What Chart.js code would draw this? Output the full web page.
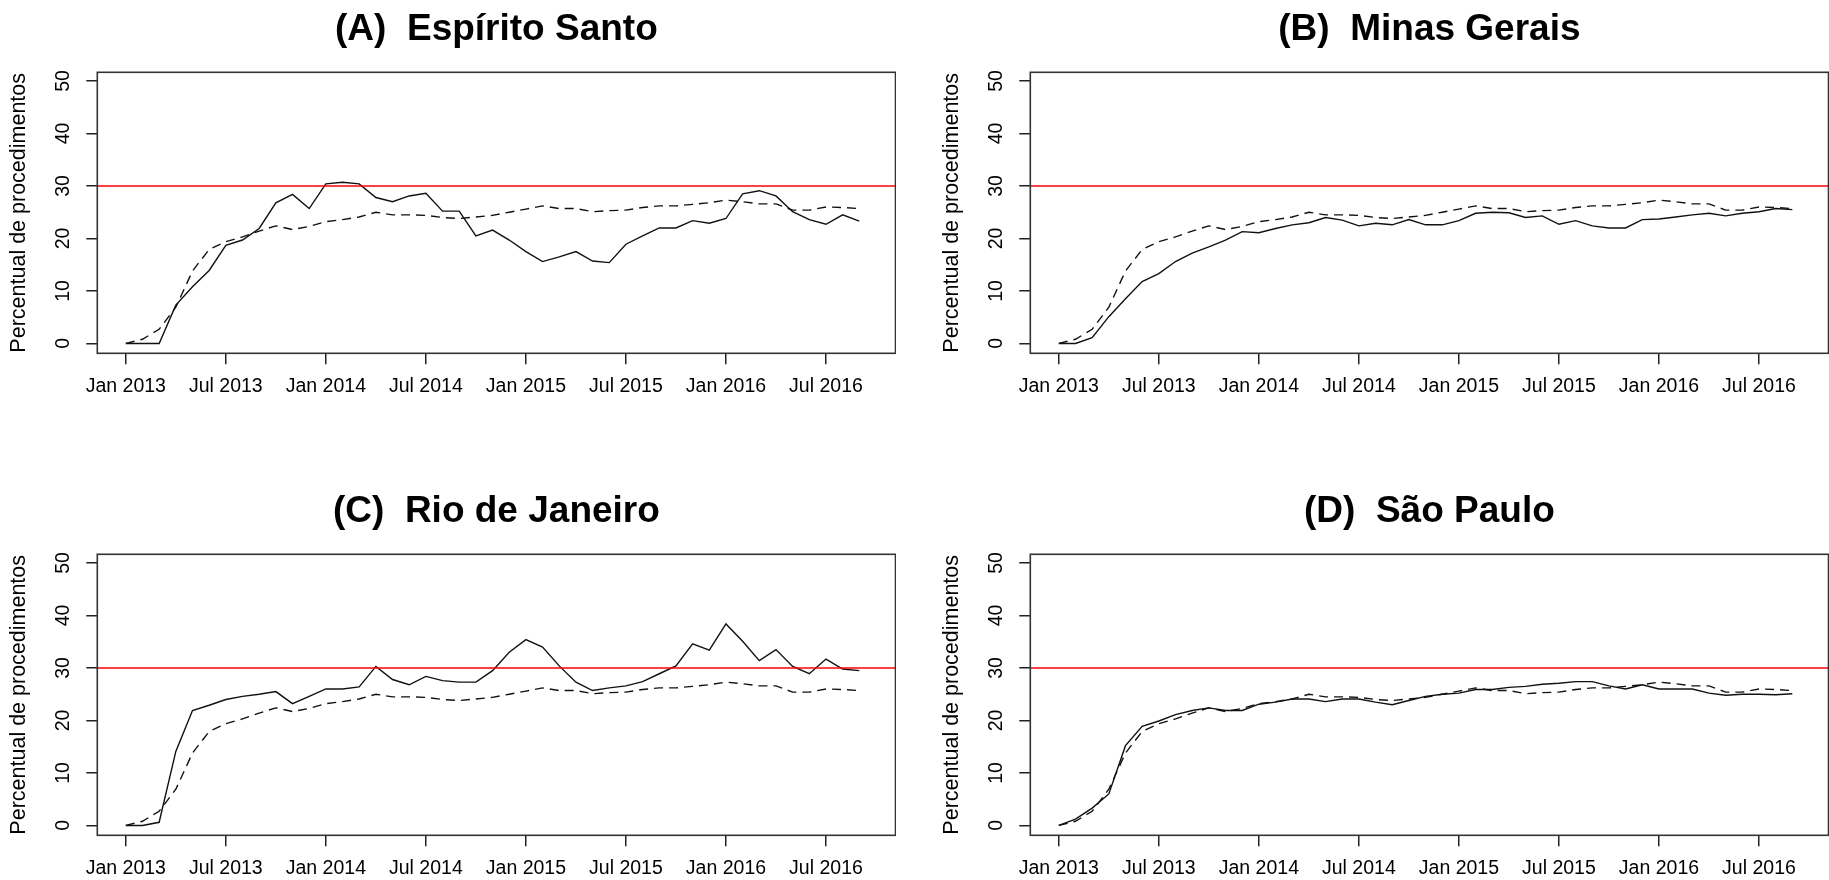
<!DOCTYPE html>
<html lang="pt-BR">
<head>
<meta charset="utf-8">
<title>Percentual de procedimentos por estado – Sudeste</title>
<script src="https://cdn.jsdelivr.net/npm/chart.js@4.4.1/dist/chart.umd.min.js"></script>
<style>
  html, body { margin: 0; padding: 0; background: #fff; }
  body { width: 1829px; height: 880px; position: relative; overflow: hidden; }
  .painel { position: absolute; width: 896px; height: 398px; }
  #pA { left: 0;     top: 0; }
  #pB { left: 933px; top: 0; }
  #pC { left: 0;     top: 482px; }
  #pD { left: 933px; top: 482px; }
</style>
</head>
<body>
<div class="painel" id="pA"><canvas id="cA" width="896" height="398"></canvas></div>
<div class="painel" id="pB"><canvas id="cB" width="896" height="398"></canvas></div>
<div class="painel" id="pC"><canvas id="cC" width="896" height="398"></canvas></div>
<div class="painel" id="pD"><canvas id="cD" width="896" height="398"></canvas></div>
<script>
// Meses de jan/2013 (0) a set/2016 (44); marcas do eixo a cada seis meses
const posicoesX = [0, 6, 12, 18, 24, 30, 36, 42];
const rotulosX  = ['Jan 2013', 'Jul 2013', 'Jan 2014', 'Jul 2014',
                   'Jan 2015', 'Jul 2015', 'Jan 2016', 'Jul 2016'];
const ticksY    = [0, 10, 20, 30, 40, 50];
const meta      = 30;

// Percentual mensal de procedimentos por estado (linha contínua)
const espiritoSanto = [0, 0, 0, 7.3, 10.8, 13.9, 18.7, 19.7, 21.9, 26.8,
  28.4, 25.7, 30.4, 30.7, 30.4, 27.8, 27.0, 28.1, 28.6, 25.2,
  25.2, 20.5, 21.6, 19.7, 17.5, 15.6, 16.5, 17.5, 15.7, 15.4,
  18.9, 20.5, 22.0, 22.0, 23.4, 22.9, 23.8, 28.5, 29.1, 28.1,
  25.1, 23.6, 22.7, 24.5, 23.3];
const minasGerais = [0, 0, 1.1, 5.1, 8.5, 11.8, 13.3, 15.6, 17.2, 18.4,
  19.7, 21.3, 21.1, 21.9, 22.6, 23.0, 24.0, 23.5, 22.4, 22.9,
  22.6, 23.6, 22.6, 22.6, 23.4, 24.8, 25.0, 24.9, 24.0, 24.3,
  22.7, 23.4, 22.4, 22.0, 22.0, 23.6, 23.7, 24.1, 24.5, 24.8,
  24.3, 24.8, 25.1, 25.7, 25.5];
const rioDeJaneiro = [0, 0, 0.6, 14.1, 21.9, 22.9, 24.0, 24.6, 25.0, 25.5,
  23.2, 24.6, 26.0, 26.0, 26.4, 30.3, 27.8, 26.8, 28.4, 27.6,
  27.3, 27.3, 29.5, 33.0, 35.4, 34.0, 30.4, 27.3, 25.7, 26.2,
  26.6, 27.4, 28.9, 30.4, 34.6, 33.4, 38.4, 35.1, 31.4, 33.5,
  30.3, 28.9, 31.7, 29.8, 29.5];
const saoPaulo = [0, 1.2, 3.3, 6.0, 15.2, 18.9, 19.9, 21.1, 21.9, 22.4,
  21.9, 21.9, 23.1, 23.5, 24.1, 24.1, 23.6, 24.1, 24.1, 23.5,
  23.0, 23.8, 24.6, 25.0, 25.2, 25.9, 25.9, 26.3, 26.5, 26.9,
  27.1, 27.4, 27.4, 26.6, 26.0, 26.8, 26.0, 26.0, 26.0, 25.2,
  24.8, 25.0, 25.0, 24.9, 25.1];
// Série de comparação (linha tracejada), a mesma em todos os painéis
const referencia = [0, 0.8, 2.7, 6.9, 13.8, 17.9, 19.4, 20.3, 21.4, 22.4,
  21.7, 22.3, 23.2, 23.6, 24.1, 25.0, 24.5, 24.5, 24.4, 24.0,
  23.8, 24.1, 24.4, 25.0, 25.6, 26.2, 25.7, 25.7, 25.1, 25.3,
  25.4, 25.9, 26.2, 26.2, 26.5, 26.8, 27.3, 27.0, 26.6, 26.6,
  25.4, 25.4, 26.0, 25.9, 25.7];

// Limites dos eixos (faixa dos dados com a margem usual de 4%)
const X_MIN = -1.71, X_MAX = 46.17;
const Y_MIN = -1.88, Y_MAX = 51.66;

const FONTE = '"Liberation Sans", Arial, Helvetica, sans-serif';
Chart.defaults.font.family = FONTE;
Chart.defaults.color = '#000';

// Moldura em volta da área de plotagem
const moldura = {
  id: 'moldura',
  afterDatasetsDraw(chart) {
    const { ctx, chartArea: a } = chart;
    ctx.save();
    ctx.strokeStyle = '#333';
    ctx.lineWidth = 1.6;
    ctx.strokeRect(a.left, a.top, a.right - a.left, a.bottom - a.top);
    ctx.restore();
  }
};

const pontos = serie => serie.map((v, i) => ({ x: i, y: v }));

const marcas = { drawOnChartArea: false, drawTicks: true, tickLength: 11, color: '#222', lineWidth: 1.5 };

function painel(id, titulo, serie) {
  return new Chart(document.getElementById(id), {
    type: 'line',
    data: {
      datasets: [
        { label: 'Meta', data: [{ x: X_MIN, y: meta }, { x: X_MAX, y: meta }],
          borderColor: '#ff0000', borderWidth: 1.6 },
        { label: 'Estado', data: pontos(serie), borderColor: '#111', borderWidth: 1.4 },
        { label: 'Referência', data: pontos(referencia), borderColor: '#111', borderWidth: 1.4,
          borderDash: [9, 6] }
      ]
    },
    options: {
      responsive: false,
      animation: false,
      events: [],
      elements: { point: { radius: 0 }, line: { tension: 0, fill: false } },
      layout: { padding: { left: 0, right: 0.5, top: 0, bottom: 0 } },
      plugins: {
        legend: { display: false },
        tooltip: { enabled: false },
        title: {
          display: true, text: titulo, fullSize: false, color: '#000',
          font: { family: FONTE, size: 37, weight: 'bold', lineHeight: 1.2 },
          padding: { top: 7.6, bottom: 20.3 }
        }
      },
      scales: {
        x: {
          type: 'linear', min: X_MIN, max: X_MAX,
          afterBuildTicks: s => { s.ticks = posicoesX.map(v => ({ value: v })); },
          afterFit: s => { s.height = 44.7; },
          ticks: {
            autoSkip: false, maxRotation: 0, minRotation: 0, padding: 10.3, color: '#000',
            font: { size: 19.5, lineHeight: 1.2 },
            callback: v => rotulosX[posicoesX.indexOf(v)]
          },
          grid: marcas,
          border: { display: false }
        },
        y: {
          type: 'linear', min: Y_MIN, max: Y_MAX,
          afterBuildTicks: s => { s.ticks = ticksY.map(v => ({ value: v })); },
          afterFit: s => { s.width = 97.3; },
          ticks: {
            autoSkip: false, minRotation: 90, maxRotation: 90, crossAlign: 'center',
            padding: 11.46, color: '#000', font: { size: 19.5, lineHeight: 1.2 },
            callback: v => String(v)
          },
          title: {
            display: true, text: 'Percentual de procedimentos', color: '#000',
            font: { size: 21.5, lineHeight: 1.2 }, padding: { top: 5.7, bottom: 0 }
          },
          grid: marcas,
          border: { display: false }
        }
      }
    },
    plugins: [moldura]
  });
}

painel('cA', '(A)  Espírito Santo', espiritoSanto);
painel('cB', '(B)  Minas Gerais', minasGerais);
painel('cC', '(C)  Rio de Janeiro', rioDeJaneiro);
painel('cD', '(D)  São Paulo', saoPaulo);
</script>
</body>
</html>
